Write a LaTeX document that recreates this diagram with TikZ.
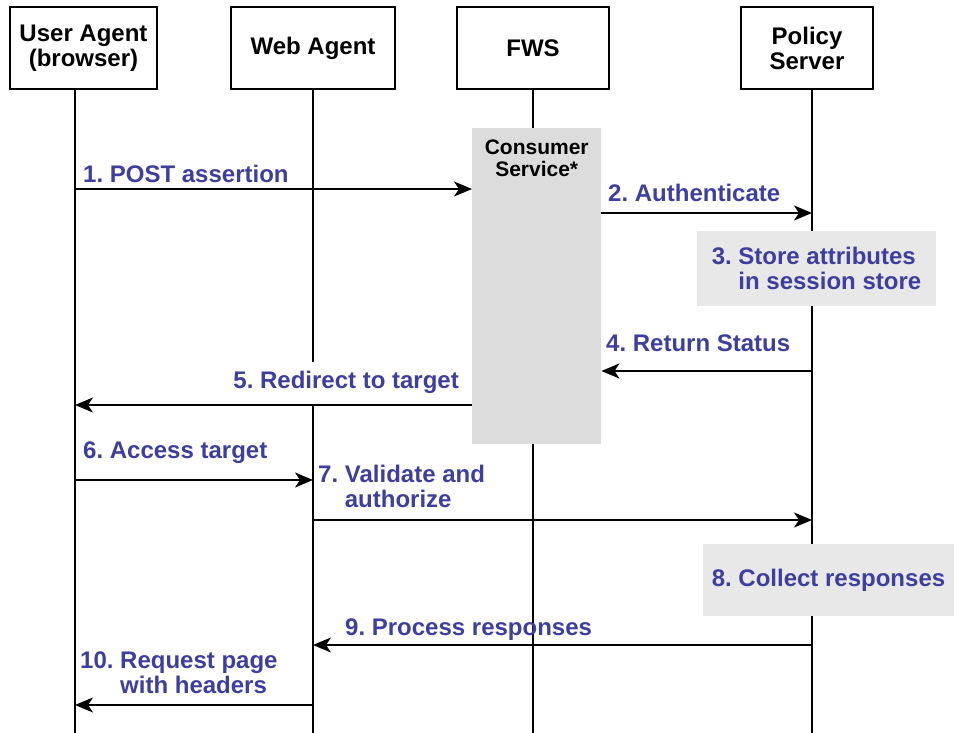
\documentclass[tikz,border=0pt]{standalone}
\usepackage{fontspec}
\setmainfont{Liberation Sans}
\usetikzlibrary{positioning,arrows.meta}
\definecolor{msgblue}{RGB}{62,62,158}
\definecolor{csgray}{RGB}{220,220,220}
\definecolor{notegray}{RGB}{232,232,232}
\frenchspacing

\begin{document}
\begin{tikzpicture}[x=1pt,y=-1pt,
  actor/.style={draw, line width=2pt, minimum height=82pt, align=center,
    font=\fontsize{24}{25}\selectfont\bfseries},
  life/.style={line width=2pt},
  msg/.style={line width=2pt, -{Stealth[length=18pt,width=15pt,inset=5pt]}},
  lbl/.style={text=msgblue, inner sep=0pt, align=left,
    font=\fontsize{24}{25}\selectfont\bfseries},
  note/.style={fill=notegray, text=msgblue, align=left,
    font=\fontsize{24}{25}\selectfont\bfseries}]

\useasboundingbox (0,0) rectangle (954,733);

% Actors
\node[actor, minimum width=147pt] (ua) at (83.5,48) {User Agent\\(browser)};
\node[actor, minimum width=164pt, right=72pt of ua] (wa) {Web Agent};
\node[actor, minimum width=152pt, right=60pt of wa] (fws) {FWS};
\node[actor, minimum width=132pt, right=130pt of fws] (ps) {Policy\\Server};

% Lifelines
\coordinate (uaL) at ([xshift=-8.5pt]ua.south);
\coordinate (waL) at (wa.south);
\coordinate (fwsL) at (fws.south);
\coordinate (psL) at ([xshift=5pt]ps.south);
\coordinate (bot) at (0,733);
\foreach \l in {uaL,waL,fwsL,psL}
  \draw[life] (\l) -- (\l |- bot);

% Activation and notes
\node[fill=csgray, inner sep=0pt, minimum width=129pt, minimum height=316pt,
  anchor=north west] (cs) at (472,128) {};
\node[inner sep=0pt, align=center, below=12pt of cs.north,
  font=\fontsize{21}{22}\selectfont\bfseries] (cslabel) {Consumer\\Service*};
\node[note, minimum width=239pt, minimum height=75pt] (store) at (816.5,268.5)
  {3. Store attributes\\\phantom{3. }in session store};
\node[note, minimum width=251pt, minimum height=72pt] (collect) at (828.5,580)
  {8. Collect responses};

% Message levels
\coordinate (m1) at (0,189);
\coordinate (m2) at (0,213);
\coordinate (m4) at (0,371);
\coordinate (m5) at (0,405);
\coordinate (m6) at (0,480);
\coordinate (m7) at (0,520);
\coordinate (m9) at (0,645);
\coordinate (m10) at (0,705);

% Connect nodes
\draw[msg] (uaL |- m1) -- (cs.west |- m1);
\draw[msg] (cs.east |- m2) -- (psL |- m2);
\draw[msg] (psL |- m4) -- (cs.east |- m4);
\draw[msg] (cs.west |- m5) -- (uaL |- m5);
\draw[msg] (uaL |- m6) -- (waL |- m6);
\draw[msg] (waL |- m7) -- (psL |- m7);
\draw[msg] (psL |- m9) -- (waL |- m9);
\draw[msg] (waL |- m10) -- (uaL |- m10);

% Labels
\node[lbl, anchor=north west] (l1) at (83,165) {1. POST assertion};
\node[lbl, anchor=north west] (l2) at (608,184) {2. Authenticate};
\node[lbl, anchor=north west] (l4) at (606,335) {4. Return Status};
\node[lbl, anchor=east, fill=white, inner ysep=10pt] (l5) at (459,382.75)
  {5. Redirect to target};
\node[lbl, anchor=north west] (l6) at (83,442) {6. Access target};
\node[lbl, anchor=north west] (l7) at (318,465)
  {7. Validate and\\\phantom{7. }authorize};
\node[lbl, anchor=north west] (l9) at (345,619) {9. Process responses};
\node[lbl, anchor=north west] (l10) at (80,652)
  {10. Request page\\\phantom{10. }with headers};

\end{tikzpicture}
\end{document}
